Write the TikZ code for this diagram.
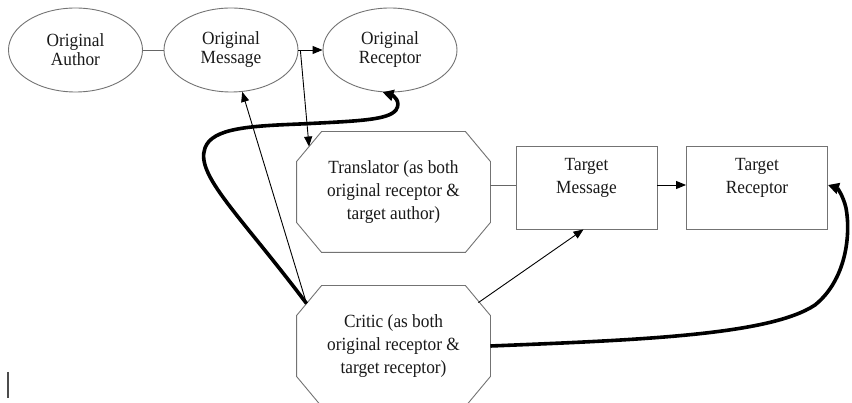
\documentclass[tikz,border=0pt]{standalone}
\usepackage{fontspec}
\setmainfont{Liberation Serif}[FakeStretch=0.93]
\usetikzlibrary{shapes.geometric,arrows.meta,calc}
\tikzset{
  base/.style={font=\fontsize{18.6}{23}\selectfont, text=black!90, align=center,
    draw=black!55, line width=0.9pt, inner sep=0pt},
  oval/.style={base, ellipse, minimum width=134pt, minimum height=84pt,
    font=\fontsize{18.6}{19}\selectfont},
  octnode/.style={base, draw=none, rectangle, minimum width=193pt, minimum height=120pt},
  octline/.style={draw=black!55, line width=0.9pt},
  box/.style={base, rectangle, minimum width=141pt, minimum height=83pt},
  thinarrow/.style={draw=black, line width=0.9pt, -{Triangle[length=10pt,width=8pt]}},
  plainline/.style={draw=black!60, line width=0.9pt},
  thickarrow/.style={draw=black, line width=3.6pt, -{Triangle[length=11pt,width=11pt]}},
}
\newcommand\drawoct[1]{%
  \draw[octline] ($(#1.north west)+(25,0)$) -- ($(#1.north east)+(-25,0)$)
    -- ($(#1.north east)+(0,30)$) -- ($(#1.south east)+(0,-30)$)
    -- ($(#1.south east)+(-25,0)$) -- ($(#1.south west)+(25,0)$)
    -- ($(#1.south west)+(0,-30)$) -- ($(#1.north west)+(0,30)$) -- cycle;}
\begin{document}
\begin{tikzpicture}[x=1pt,y=-1pt]
\fill[white] (0,0) rectangle (852,403);
\useasboundingbox (0,0) rectangle (852,403);
\clip (0,0) rectangle (852,403);

\node[oval] (auth) at (75.5,50) {Original\\Author};
\node[oval] (msg) at (231,50) {Original\\Message};
\node[oval] (rec) at (390,50) {Original\\Receptor};

\node[octnode] (tra) at (393.5,192) {Translator (as both\\original receptor \&\\target author)};
\node[octnode] (crit) at (393.5,346) {Critic (as both\\original receptor \&\\target receptor)};
\drawoct{tra}
\drawoct{crit}

\node[box] (tm) at (586.5,187.5) {Target\\Message\\~};
\node[box] (tr) at (757,187.5) {Target\\Receptor\\~};

% connector end points on the octagon borders
\coordinate (traR) at ($(tra.east)+(0,-7)$);
\coordinate (traTL) at ($(tra.north west)+(12.5,15)$);
\coordinate (critTL) at ($(crit.north west)+(10,18)$);
\coordinate (critTR) at ($(crit.north east)+(-12,17)$);

% connectors
\draw[plainline] (auth.east) -- (msg.west);
\draw[thinarrow] (msg.east) -- (rec.west);
\draw[thinarrow] ($(msg.east)+(2,1)$) -- (traTL);
\draw[plainline] (traR) -- (traR -| tm.west);
\draw[thinarrow] ($(tm.east)+(0,-2.5)$) -- ($(tr.west)+(0,-2.5)$);
\draw[thinarrow] (critTL) -- (msg.-75);
\draw[thinarrow] (critTR) -- ($(tm.south)+(-3,0)$);

\draw[thickarrow] (critTL) .. controls (240,215) and (195,175) .. (205,148)
  .. controls (212,128) and (250,126) .. (300,124)
  .. controls (360,121) and (388,120) .. (396,110)
  .. controls (402,101) and (392,95) .. (rec.-100);

\draw[thickarrow] (crit.east) .. controls (640,340) and (770,335) .. (815,305)
  .. controls (846,280) and (851,235) .. (846,208)
  .. controls (843,195) and (837,188) .. ($(tr.east)+(0,-2.5)$);

% stray mark at lower left
\draw[line width=1.6pt, black!70] (8,372) -- (8,398);
\end{tikzpicture}
\end{document}
